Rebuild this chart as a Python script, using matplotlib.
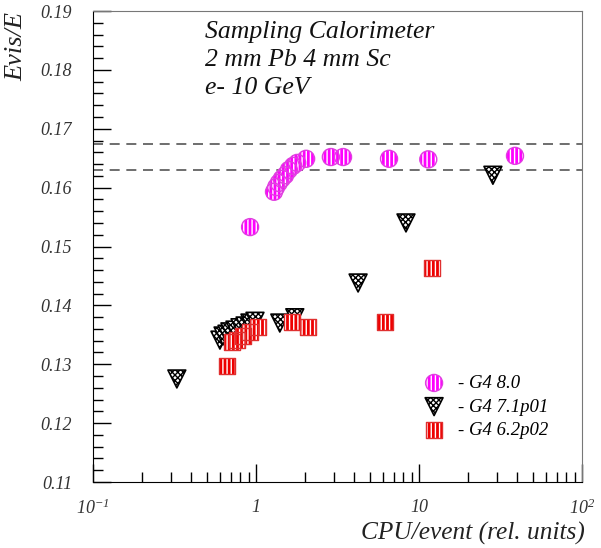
import matplotlib
matplotlib.use('Agg')
import numpy as np
import matplotlib.pyplot as plt
from matplotlib.ticker import FixedLocator, LogLocator, MultipleLocator, FuncFormatter
from matplotlib.legend_handler import HandlerTuple

# G4 8.0 (magenta circles)
cpu_80 = [0.92, 1.29, 1.33, 1.38, 1.44, 1.51, 1.59, 1.69, 1.79, 2.03, 2.88, 3.42, 6.55, 11.4, 38.8]
evis_80 = [0.1533, 0.1593, 0.1601, 0.1608, 0.1615, 0.1621, 0.1630, 0.1637, 0.1642, 0.1649,
           0.1652, 0.1652, 0.1649, 0.1648, 0.1654]

# G4 7.1p01 (black triangles)
cpu_71 = [0.327, 0.601, 0.628, 0.664, 0.692, 0.743, 0.798, 0.857, 0.918, 0.986, 1.40, 1.73, 4.23, 8.32, 28.4]
evis_71 = [0.1275, 0.1341, 0.1348, 0.1351, 0.1355, 0.1358, 0.1362, 0.1365, 0.1370, 0.1373,
           0.1370, 0.1379, 0.1438, 0.1540, 0.1621]

# G4 6.2p02 (red squares)
cpu_62 = [0.664, 0.713, 0.765, 0.832, 0.918, 1.03, 1.66, 2.08, 6.19, 12.0]
evis_62 = [0.1297, 0.1338, 0.1341, 0.1348, 0.1355, 0.1363, 0.1372, 0.1363, 0.1372, 0.1463]

band = [0.1630, 0.1674]
labels = ['- G4 8.0', '- G4 7.1p01', '- G4 6.2p02']
info = 'Sampling Calorimeter\n2 mm Pb 4 mm Sc\ne- 10 GeV'

plt.rcParams['font.family'] = ['Liberation Serif', 'DejaVu Serif']
plt.rcParams['font.style'] = 'italic'
plt.rcParams['mathtext.fontset'] = 'custom'
plt.rcParams['mathtext.it'] = 'Liberation Serif:italic'
plt.rcParams['mathtext.rm'] = 'Liberation Serif:italic'
plt.rcParams['mathtext.default'] = 'it'
plt.rcParams['hatch.linewidth'] = 1.0

fig = plt.figure(figsize=(6.01, 5.48), dpi=100)
ax = fig.add_axes([0.1547, 0.1204, 0.8137, 0.8595])

ax.set_xscale('log')
ax.set_xlim(0.1, 100)
ax.set_ylim(0.11, 0.19)

for yv in band:
    ax.axhline(yv, color='#555555', lw=1.2, dashes=(6, 4), zorder=1)

ms = 150
# circles: magenta fill with white stripes, then outline
c1 = ax.scatter(cpu_80, evis_80, s=ms, marker='o', facecolor='#ff00ff', edgecolor='white',
                hatch='||||', linewidth=0, zorder=3)
c2 = ax.scatter(cpu_80, evis_80, s=ms, marker='o', facecolor='none', edgecolor='#e040e0',
                linewidth=1.0, zorder=4)
t1 = ax.scatter(cpu_71, evis_71, s=ms * 1.1, marker='v', facecolor='white', edgecolor='black',
                hatch='xxxxxx', linewidth=1.2, zorder=3)
s1 = ax.scatter(cpu_62, evis_62, s=ms * 0.9, marker='s', facecolor='#ee0000', edgecolor='white',
                hatch='||||', linewidth=0, zorder=3)
s2 = ax.scatter(cpu_62, evis_62, s=ms * 0.9, marker='s', facecolor='none', edgecolor='#e03030',
                linewidth=1.0, zorder=4)

ax.text(0.23, 0.978, info, transform=ax.transAxes, fontsize=18.5, va='top', ha='left',
        linespacing=1.35, color='#111111')

ax.legend([(c1, c2), t1, (s1, s2)], labels, handler_map={tuple: HandlerTuple(ndivide=1, pad=0)},
          loc='lower left', bbox_to_anchor=(0.64, 0.055), frameon=False, fontsize=13.5,
          handletextpad=0.7, labelspacing=0.35, handlelength=1.2)

# ticks
ax.yaxis.set_major_locator(MultipleLocator(0.01))
ax.yaxis.set_minor_locator(MultipleLocator(0.002))
ax.yaxis.set_major_formatter(FuncFormatter(lambda v, p: '%.2f' % v))
ax.xaxis.set_major_locator(FixedLocator([0.1, 1, 10, 100]))
ax.xaxis.set_minor_locator(LogLocator(base=10, subs=np.arange(2, 10)))

def xfmt(v, p):
    if abs(v - 0.1) < 1e-9:
        return r'$10^{-1}$'
    if abs(v - 100) < 1e-9:
        return r'$10^{2}$'
    return '%g' % v

ax.xaxis.set_major_formatter(FuncFormatter(xfmt))
ax.xaxis.set_minor_formatter(FuncFormatter(lambda v, p: ''))

ax.tick_params(which='both', direction='in', top=False, right=False, colors='black',
               labelcolor='#333333', labelsize=13)
ax.tick_params(which='major', length=13, width=1)
ax.tick_params(which='minor', length=7, width=1)
ax.tick_params(axis='y', which='major', pad=15)
ax.tick_params(axis='x', which='major', pad=12)

ax.spines['top'].set_color('#777777')
ax.spines['right'].set_color('#777777')

ax.set_ylabel('Evis/E', fontsize=19, color='#222222')
ax.yaxis.set_label_coords(-0.135, 0.925)
ax.set_xlabel('CPU/event (rel. units)', fontsize=18.3, color='#222222')
ax.xaxis.set_label_coords(0.777, -0.085)

fig.savefig('out.png', dpi=100)
